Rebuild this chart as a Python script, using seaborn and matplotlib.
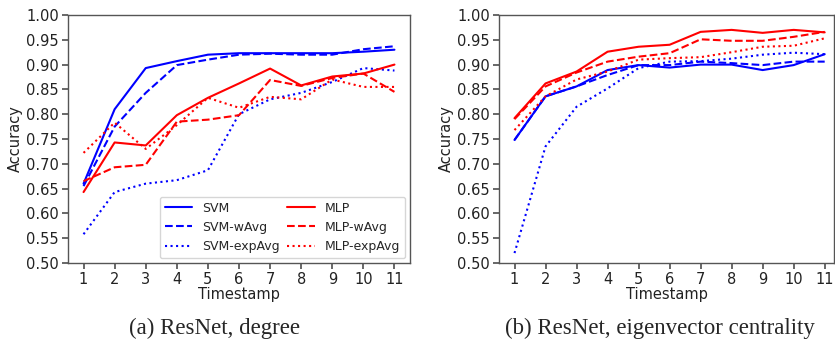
import numpy as np
import pandas as pd
import matplotlib
matplotlib.use("Agg")
import matplotlib.pyplot as plt
import seaborn as sns

timestamps = list(range(1, 12))

# (a) ResNet, degree
deg_svm = [0.660, 0.810, 0.893, 0.907, 0.920, 0.923, 0.923, 0.923, 0.923, 0.926, 0.930]
deg_svm_wavg = [0.655, 0.775, 0.843, 0.899, 0.910, 0.920, 0.922, 0.920, 0.920, 0.931, 0.937]
deg_svm_exp = [0.558, 0.643, 0.660, 0.667, 0.687, 0.800, 0.830, 0.843, 0.865, 0.893, 0.888]
deg_mlp = [0.643, 0.743, 0.737, 0.798, 0.833, 0.862, 0.892, 0.858, 0.876, 0.882, 0.900]
deg_mlp_wavg = [0.665, 0.693, 0.698, 0.785, 0.789, 0.798, 0.869, 0.857, 0.873, 0.882, 0.845]
deg_mlp_exp = [0.722, 0.783, 0.730, 0.778, 0.833, 0.813, 0.835, 0.830, 0.870, 0.855, 0.855]

# (b) ResNet, eigenvector centrality
eig_svm = [0.748, 0.836, 0.856, 0.889, 0.899, 0.894, 0.900, 0.900, 0.889, 0.899, 0.921]
eig_svm_wavg = [0.748, 0.836, 0.856, 0.879, 0.899, 0.899, 0.906, 0.903, 0.899, 0.906, 0.906]
eig_svm_exp = [0.520, 0.735, 0.815, 0.852, 0.893, 0.906, 0.907, 0.912, 0.920, 0.924, 0.921]
eig_mlp = [0.792, 0.862, 0.886, 0.926, 0.936, 0.940, 0.966, 0.970, 0.964, 0.970, 0.965]
eig_mlp_wavg = [0.790, 0.856, 0.884, 0.906, 0.916, 0.923, 0.951, 0.948, 0.948, 0.956, 0.966]
eig_mlp_exp = [0.768, 0.836, 0.870, 0.886, 0.910, 0.913, 0.915, 0.925, 0.936, 0.938, 0.953]

names = ["SVM", "SVM-wAvg", "SVM-expAvg", "MLP", "MLP-wAvg", "MLP-expAvg"]
colors = ["blue", "blue", "blue", "red", "red", "red"]
styles = ["-", "--", ":", "-", "--", ":"]

sns.set_theme(style="ticks")
plt.rcParams["font.family"] = ["DejaVu Sans"]
plt.rcParams["axes.edgecolor"] = "#555555"
plt.rcParams["xtick.color"] = "#555555"
plt.rcParams["ytick.color"] = "#555555"
plt.rcParams["xtick.labelcolor"] = "#222222"
plt.rcParams["ytick.labelcolor"] = "#222222"

fig = plt.figure(figsize=(8.35, 3.47), dpi=100)
ax1 = fig.add_axes([68 / 835, 1 - 263 / 347, 342 / 835, 248 / 347])
ax2 = fig.add_axes([499 / 835, 1 - 263 / 347, 335 / 835, 248 / 347])


def draw(ax, series, xmax):
    for vals, name, c, ls in zip(series, names, colors, styles):
        sns.lineplot(x=timestamps, y=vals, ax=ax, color=c, linestyle=ls,
                     linewidth=1.5, label=name)
    ax.set_xlim(0.5, xmax)
    ax.set_ylim(0.5, 1.0)
    ax.set_xticks(timestamps)
    ax.set_yticks(np.arange(0.5, 1.001, 0.05))
    ax.set_yticklabels(["%.2f" % v for v in np.arange(0.5, 1.001, 0.05)])
    ax.tick_params(labelsize=10.5, length=4, pad=2.5)
    ax.set_xlabel("Timestamp", fontsize=10.5, labelpad=0, color="#222222")
    ax.set_ylabel("Accuracy", fontsize=10.5, labelpad=2, color="#222222")
    for s in ax.spines.values():
        s.set_visible(True)
        s.set_linewidth(1.0)


draw(ax1, [deg_svm, deg_svm_wavg, deg_svm_exp, deg_mlp, deg_mlp_wavg, deg_mlp_exp], 11.5)
draw(ax2, [eig_svm, eig_svm_wavg, eig_svm_exp, eig_mlp, eig_mlp_wavg, eig_mlp_exp], 11.3)

ax1.legend(ncol=2, loc="lower right", fontsize=9, frameon=True,
           handlelength=2.2, columnspacing=0.6, labelspacing=0.5,
           borderaxespad=0.4, handletextpad=0.8)
ax2.get_legend().remove()

fig.text(215 / 835, 1 - 328 / 347, "(a) ResNet, degree", ha="center", va="center",
         fontsize=16.5, family="Liberation Serif")
fig.text(660 / 835, 1 - 328 / 347, "(b) ResNet, eigenvector centrality", ha="center",
         va="center", fontsize=16.5, family="Liberation Serif")

fig.savefig("out.png", dpi=100)
